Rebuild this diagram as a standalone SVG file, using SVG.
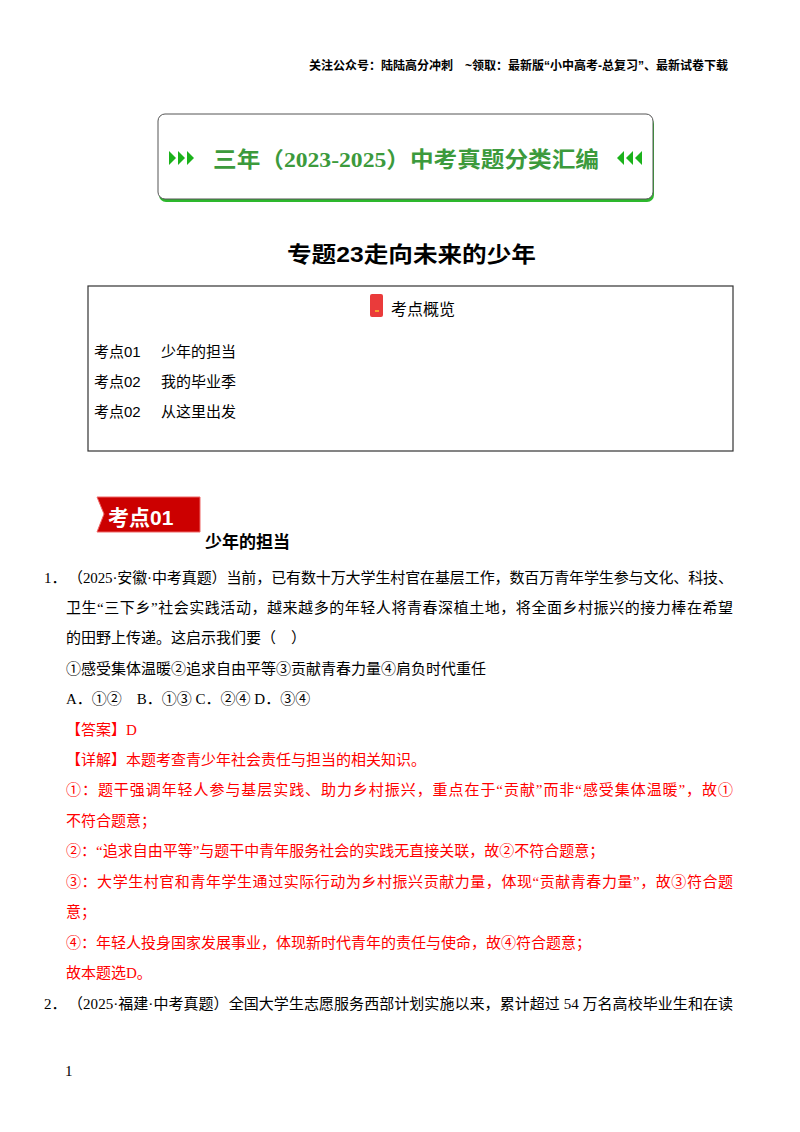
<svg xmlns="http://www.w3.org/2000/svg" width="800" height="1132" viewBox="0 0 800 1132">
<style>
.s{font-family:"Liberation Serif","Noto Sans CJK SC",serif;font-size:15px;fill:#000}
.r{fill:#f00}
.h{font-family:"Liberation Sans","Noto Sans CJK SC",sans-serif}
</style>
<rect width="800" height="1132" fill="#fff"/>
<text x="728" y="70" text-anchor="end" class="h" font-size="12" font-weight="bold">关注公众号：陆陆高分冲刺　~领取：最新版“小中高考-总复习”、最新试卷下载</text>
<g id="banner">
<rect x="159" y="117" width="495" height="85" rx="7" fill="#2db82d"/>
<rect x="158" y="114" width="495" height="85" rx="7" fill="#fff" stroke="#555" stroke-width="1"/>
<g fill="#1bb21b">
<polygon points="169,151 169,165 176,158"/><polygon points="178,151 178,165 185,158"/><polygon points="187,151 187,165 194,158"/>
<polygon points="642,151 642,165 635,158"/><polygon points="633,151 633,165 626,158"/><polygon points="624,151 624,165 617,158"/>
</g>
<text x="213" y="167" textLength="386" lengthAdjust="spacingAndGlyphs" font-family="Liberation Serif,Noto Sans CJK SC,serif" font-size="22" font-weight="bold" fill="#3c9a3c">三年（2023-2025）中考真题分类汇编</text>
</g>
<text x="287" y="262" textLength="249" lengthAdjust="spacingAndGlyphs" class="h" font-size="22" font-weight="bold">专题23走向未来的少年</text>
<g id="overview">
<rect x="88" y="286" width="645" height="165" fill="none" stroke="#333" stroke-width="1.2"/>
<rect x="370" y="294" width="13" height="23" rx="2" fill="#ea3b3b"/>
<rect x="375" y="310" width="4" height="2" fill="#f9a030"/>
<text x="391" y="315" class="h" font-size="16">考点概览</text>
<text x="94" y="357" class="h" font-size="15">考点01<tspan x="161">少年的担当</tspan></text>
<text x="94" y="387" class="h" font-size="15">考点02<tspan x="161">我的毕业季</tspan></text>
<text x="94" y="417" class="h" font-size="15">考点02<tspan x="161">从这里出发</tspan></text>
</g>
<g id="badge">
<polygon points="97,497 200,497 200,532 97,532 104,514" fill="#c00" stroke="#e66" stroke-width="1"/>
<text x="108" y="525" class="h" font-size="21" font-weight="bold" fill="#fff">考点01</text>
<text x="205" y="548" class="h" font-size="17" font-weight="bold">少年的担当</text>
</g>
<text x="44" y="583" class="s">1．</text>
<text x="68" y="583" class="s" textLength="665" lengthAdjust="spacing">（2025·安徽·中考真题）当前，已有数十万大学生村官在基层工作，数百万青年学生参与文化、科技、</text>
<text x="66" y="613" class="s" textLength="667" lengthAdjust="spacing">卫生“三下乡”社会实践活动，越来越多的年轻人将青春深植土地，将全面乡村振兴的接力棒在希望</text>
<text x="66" y="643" class="s">的田野上传递。这启示我们要（　）</text>
<text x="66" y="674" class="s">①感受集体温暖②追求自由平等③贡献青春力量④肩负时代重任</text>
<text x="66" y="704" class="s">A．①②　B．①③ C．②④ D．③④</text>
<text x="66" y="735" class="s r">【答案】D</text>
<text x="66" y="765" class="s r">【详解】本题考查青少年社会责任与担当的相关知识。</text>
<text x="66" y="795" class="s r" textLength="667" lengthAdjust="spacing">①：题干强调年轻人参与基层实践、助力乡村振兴，重点在于“贡献”而非“感受集体温暖”，故①</text>
<text x="66" y="826" class="s r">不符合题意；</text>
<text x="66" y="856" class="s r">②：“追求自由平等”与题干中青年服务社会的实践无直接关联，故②不符合题意；</text>
<text x="66" y="887" class="s r" textLength="667" lengthAdjust="spacing">③：大学生村官和青年学生通过实际行动为乡村振兴贡献力量，体现“贡献青春力量”，故③符合题</text>
<text x="66" y="917" class="s r">意；</text>
<text x="66" y="948" class="s r">④：年轻人投身国家发展事业，体现新时代青年的责任与使命，故④符合题意；</text>
<text x="66" y="978" class="s r">故本题选D。</text>
<text x="44" y="1009" class="s">2．</text>
<text x="68" y="1009" class="s" textLength="665" lengthAdjust="spacing">（2025·福建·中考真题）全国大学生志愿服务西部计划实施以来，累计超过 54 万名高校毕业生和在读</text>
<text x="65" y="1076" class="s">1</text>
</svg>
